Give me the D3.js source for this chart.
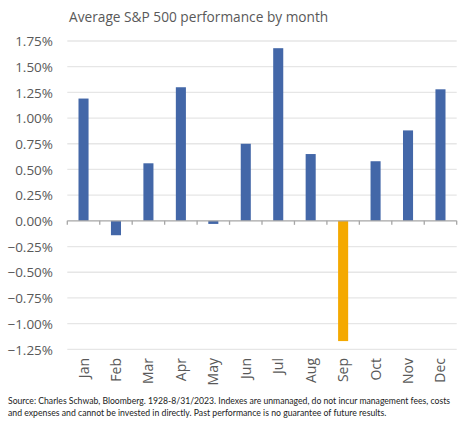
<!DOCTYPE html>
<html><head><meta charset="utf-8">
<script src="https://cdn.jsdelivr.net/npm/d3@7"></script>
<style>body{margin:0;background:#fff}svg{display:block}</style>
</head><body>
<script>
const months = ["Jan","Feb","Mar","Apr","May","Jun","Jul","Aug","Sep","Oct","Nov","Dec"];
const values = [1.19,-0.14,0.56,1.30,-0.03,0.75,1.68,0.65,-1.17,0.58,0.88,1.28];
const highlight = ["Sep"];
const yTicks = [1.75,1.5,1.25,1.0,0.75,0.5,0.25,0,-0.25,-0.5,-0.75,-1.0,-1.25];
const title = "Average S&P 500 performance by month";
const footer = ["Source: Charles Schwab, Bloomberg. 1928-8/31/2023. Indexes are unmanaged, do not incur management fees, costs",
"and expenses and cannot be invested in directly. Past performance is no guarantee of future results."];
const footerWidths = [442, 379];

(function(){
const W=473,H=432;
const svg=d3.select("body").append("svg").attr("width",W).attr("height",H);
const pl=67.3,pr=456.7,pt=41,pb=349.3;
const y=d3.scaleLinear().domain([-1.25,1.75]).range([pb,pt]);
const x=d3.scaleBand().domain(months).range([pl,pr]).paddingInner(0.69).paddingOuter(0.345);
const step=x.step();

svg.append("text").attr("x",69).attr("y",22).attr("fill","#595959")
  .attr("font-family","Open Sans").attr("font-size",13.7).text(title);

svg.append("g").selectAll("line").data(yTicks.filter(d=>d!==0)).join("line")
  .attr("x1",pl).attr("x2",pr).attr("y1",d=>y(d)).attr("y2",d=>y(d))
  .attr("stroke","#e6e6e6").attr("stroke-width",1.3);

const yAxis=d3.axisLeft(y).tickValues(yTicks).tickSize(0).tickPadding(0)
  .tickFormat(d=>d3.format(".2f")(d)+"%");
const ga=svg.append("g").attr("transform","translate(53,0)").call(yAxis);
ga.select(".domain").remove();
ga.selectAll("text").attr("font-family","Open Sans").attr("font-size",13.5).attr("fill","#595959").attr("dy","0.35em");

svg.append("g").selectAll("rect").data(months).join("rect")
  .attr("x",d=>x(d)).attr("width",x.bandwidth())
  .attr("y",(d,i)=>y(Math.max(0,values[i])))
  .attr("height",(d,i)=>Math.abs(y(values[i])-y(0)))
  .attr("fill",d=>highlight.includes(d)?"#f4a900":"#4367a8");

svg.append("line").attr("x1",pl).attr("x2",pr).attr("y1",y(0)).attr("y2",y(0))
  .attr("stroke","#a6a6a6").attr("stroke-width",1.3);
const bounds=months.map((m,i)=>pl+i*step).concat([pr]);
svg.append("g").selectAll("line").data(bounds).join("line")
  .attr("x1",d=>d).attr("x2",d=>d).attr("y1",y(0)).attr("y2",y(0)+4)
  .attr("stroke","#a6a6a6").attr("stroke-width",1.3);

svg.append("g").selectAll("text").data(months).join("text")
  .attr("transform",d=>`translate(${x(d)+x.bandwidth()/2+5},358) rotate(-90)`)
  .attr("text-anchor","end").attr("font-family","Open Sans").attr("font-size",14)
  .attr("fill","#595959").text(d=>d);

svg.append("g").selectAll("text").data(footer).join("text")
  .attr("font-family","Lato").attr("font-size",10.3).attr("fill","#222").text(d=>d)
  .each(function(d,i){
    const w=this.getComputedTextLength();
    const s=footerWidths[i]/w;
    d3.select(this).attr("transform",`translate(8,${404+i*11.5}) scale(${s},1)`);
  });
})();
</script>
</body></html>
